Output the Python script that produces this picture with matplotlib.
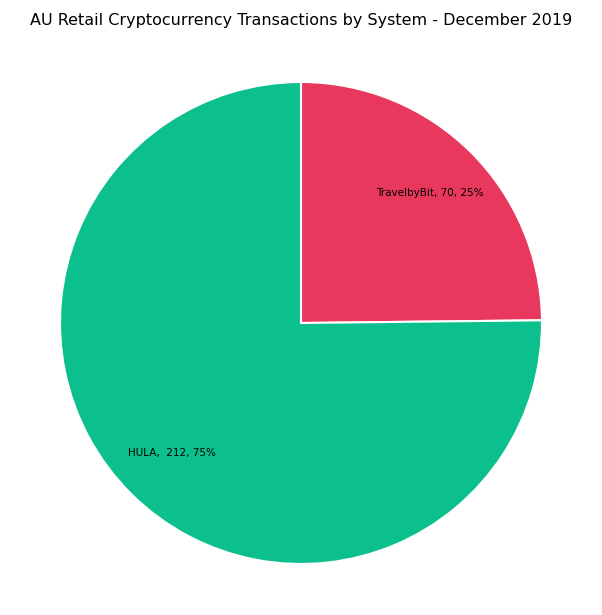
import matplotlib.pyplot as plt

labels = ["TravelbyBit", "HULA"]
values = [70, 212]
colors = ["#E8385E", "#0BC08C"]
texts = ["TravelbyBit, 70, 25%", "HULA,  212, 75%"]

fig = plt.figure(figsize=(6.02, 6.15), dpi=100)
ax = fig.add_axes([60 / 602, 51 / 615, 482 / 602, 482 / 615])

idx = iter(texts)
ax.pie(values, colors=colors, startangle=90, counterclock=False,
       autopct=lambda p: next(idx), pctdistance=0.76,
       wedgeprops=dict(edgecolor="white", linewidth=1.5),
       textprops=dict(fontsize=7.5, color="black"))
ax.set_xlim(-1, 1)
ax.set_ylim(-1, 1)
ax.set_aspect("equal")

fig.text(0.5, 1 - 20 / 615, "AU Retail Cryptocurrency Transactions by System - December 2019",
         ha="center", va="center", fontsize=11.5)

fig.savefig("out.png", dpi=100)
